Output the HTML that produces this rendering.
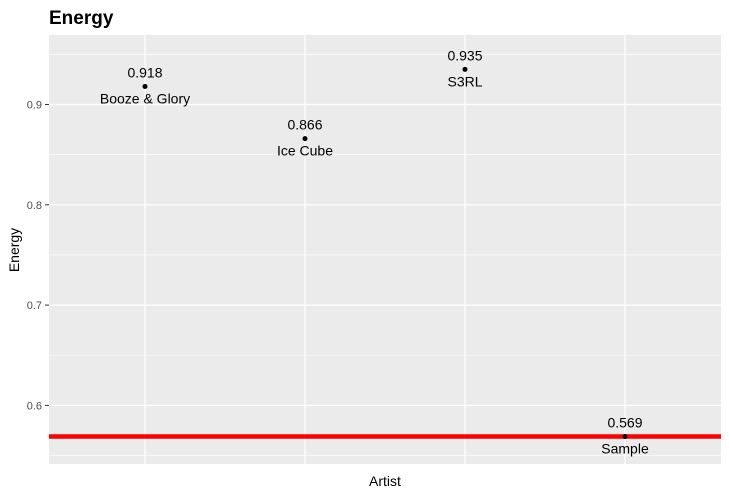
<!DOCTYPE html>
<html><head><meta charset="utf-8"><style>
body{margin:0;background:#fff;font-family:"Liberation Sans",Arial,sans-serif}
</style></head><body>
<svg width="729" height="495" id="chart" style="font-family:'Liberation Sans',Arial,sans-serif">
<text x="49" y="24" font-size="19" font-weight="bold">Energy</text>
<rect x="49" y="35" width="672" height="429" fill="#ebebeb"/>
<g id="grid"></g><g id="marks"></g>
<text x="385" y="486" font-size="14" text-anchor="middle">Artist</text>
<text transform="translate(19,250) rotate(-90)" font-size="14" text-anchor="middle">Energy</text>
</svg>
<script>
const artists=["Booze & Glory","Ice Cube","S3RL","Sample"];
const energy=[0.918,0.866,0.935,0.569];
const yTicks=[0.6,0.7,0.8,0.9];
const yMinor=[0.55,0.65,0.75,0.85,0.95];
const refValue=0.569;
const NS="http://www.w3.org/2000/svg";
const L=49,R=721,T=35,B=464;
const x=i=>L+(i+0.6)*(R-L)/(artists.length+0.2);
const y=v=>104.5+(0.9-v)*1003;
function mk(p,tag,a){const e=document.createElementNS(NS,tag);for(const k in a)e.setAttribute(k,a[k]);p.appendChild(e);return e;}
const g=document.getElementById('grid'),m=document.getElementById('marks'),svg=document.getElementById('chart');
yMinor.forEach(v=>{const e=mk(g,'line',{x1:L,x2:R,y1:y(v),y2:y(v),stroke:'#fff','stroke-width':0.6});

});
yTicks.forEach(v=>{const e=mk(g,'line',{x1:L,x2:R,y1:y(v),y2:y(v),stroke:'#fff','stroke-width':1.2});


const t=mk(svg,'line',{x1:45,x2:49,y1:y(v),y2:y(v),stroke:'#333'});


const l=mk(svg,'text',{x:42,y:y(v)+4,'font-size':11,'text-anchor':'end',fill:'#4d4d4d'});l.textContent=v.toFixed(1);

});
artists.forEach((a,i)=>{const e=mk(g,'line',{x1:x(i),x2:x(i),y1:T,y2:B,stroke:'#fff','stroke-width':1.2});

});
const r=mk(m,'line',{x1:L,x2:R,y1:y(refValue),y2:y(refValue),stroke:'#ff0000','stroke-width':4.5});


artists.forEach((a,i)=>{const c=mk(m,'circle',{cx:x(i),cy:y(energy[i]),r:2.5,fill:'#000'});


const v=mk(m,'text',{x:x(i),y:y(energy[i])-9,'font-size':14,'text-anchor':'middle'});v.textContent=energy[i].toFixed(3);


const n=mk(m,'text',{x:x(i),y:y(energy[i])+17,'font-size':14,'text-anchor':'middle'});n.textContent=a;

});
</script>
</body></html>
